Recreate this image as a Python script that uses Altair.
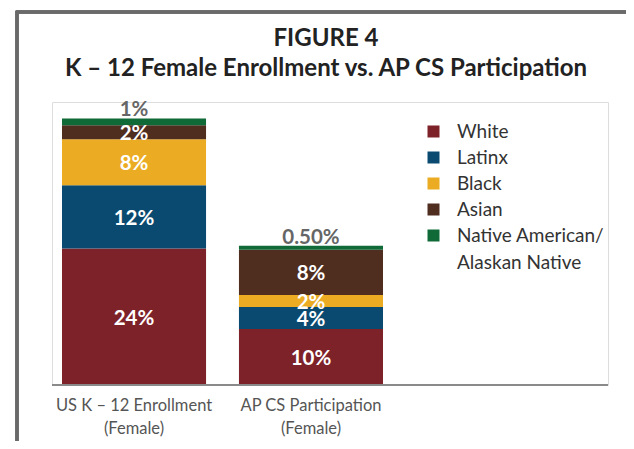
import altair as alt
import pandas as pd

categories = ["US K – 12 Enrollment (Female)", "AP CS Participation (Female)"]
groups = ["White", "Latinx", "Black", "Asian", "Native American/Alaskan Native"]
colors = ["#7E2229", "#0B4A70", "#EBAC23", "#4F2D1F", "#0F6A38"]
values_k12 = [24.1, 11.2, 8.1, 2.5, 1.2]
values_ap = [9.9, 3.9, 2.1, 8.0, 0.7]
labels_k12 = ["24%", "12%", "8%", "2%", "1%"]
labels_ap = ["10%", "4%", "2%", "8%", "0.50%"]

rows = []
for cat, vals, labs in [(categories[0], values_k12, labels_k12), (categories[1], values_ap, labels_ap)]:
    base = 0.0
    for i, (g, v, l) in enumerate(zip(groups, vals, labs)):
        rows.append({"cat": cat, "group": g, "order": i, "y0": base, "y1": base + v,
                     "mid": base + v / 2, "label": l, "top": i == len(groups) - 1})
        base += v
df = pd.DataFrame(rows)

W, H = 556, 283
FONT = "Lato"

xscale = alt.Scale(domain=categories, range=[10, 331], paddingInner=0.186, paddingOuter=0)
yscale = alt.Scale(domain=[0, 50], nice=False)

xenc = alt.X("cat:N", scale=xscale, sort=categories, title=None,
             axis=alt.Axis(labelAngle=0, domain=False, ticks=False, labelFontSize=16.5,
                           labelColor="#555", labelFont=FONT, labelPadding=12,
                           labelLineHeight=23,
                           labelExpr="[slice(datum.label, 0, indexof(datum.label, ' (')), slice(datum.label, indexof(datum.label, ' (') + 1)]"))

frame = alt.Chart(df).mark_rect(filled=False, stroke="#6a6a6a", strokeWidth=2.5, clip=False).encode(
    x=alt.value(-35), x2=alt.value(800), y=alt.value(-90), y2=alt.value(600))

bars = alt.Chart(df).mark_bar().encode(
    x=xenc,
    y=alt.Y("y0:Q", scale=yscale, axis=None),
    y2="y1:Q",
    color=alt.Color("group:N", scale=alt.Scale(domain=groups, range=colors), sort=groups,
                    legend=alt.Legend(title=None, orient="none", legendX=372, legendY=20,
                                      symbolType="square", symbolSize=144, symbolStrokeWidth=0,
                                      labelFontSize=19, labelColor="#333", labelFont=FONT,
                                      labelOffset=14, rowPadding=6, labelLimit=300,
                                      labelExpr="indexof(datum.label, '/') > 0 ? [slice(datum.label, 0, indexof(datum.label, '/') + 1), slice(datum.label, indexof(datum.label, '/') + 1)] : datum.label")),
    order="order:Q",
)

inner = alt.Chart(df).transform_filter("!datum.top").mark_text(
    color="white", fontSize=20.5, fontWeight="bold", font=FONT, dy=2).encode(
    x=alt.X("cat:N", scale=xscale, sort=categories),
    y=alt.Y("mid:Q", scale=yscale),
    text="label:N")

topl = alt.Chart(df).transform_filter("datum.top").mark_text(
    color="#666", fontSize=20.5, fontWeight="bold", font=FONT, dy=-8).encode(
    x=alt.X("cat:N", scale=xscale, sort=categories),
    y=alt.Y("y1:Q", scale=yscale),
    text="label:N")

baseline = alt.Chart(df).mark_rule(color="#8a8a8a", strokeWidth=1.5).encode(
    x=alt.value(0), x2=alt.value(W), y=alt.value(H))

chart = alt.layer(frame, bars, inner, topl, baseline).properties(
    width=W, height=H,
    autosize=alt.AutoSizeParams(type="none"),
    padding={"left": 44, "top": 94, "right": 18, "bottom": 56},
    title=alt.TitleParams(text=["FIGURE 4", "K – 12 Female Enrollment vs. AP CS Participation"],
                          fontSize=24, fontWeight="bold", color="#222", font=FONT,
                          anchor="middle", lineHeight=30, offset=-70, dx=-4),
).configure_view(strokeWidth=0, stroke="transparent").configure(
    background="white", style={"guide-label": {"lineHeight": 27}})

chart.save("out.html", embed_options={"renderer": "svg", "actions": False})
